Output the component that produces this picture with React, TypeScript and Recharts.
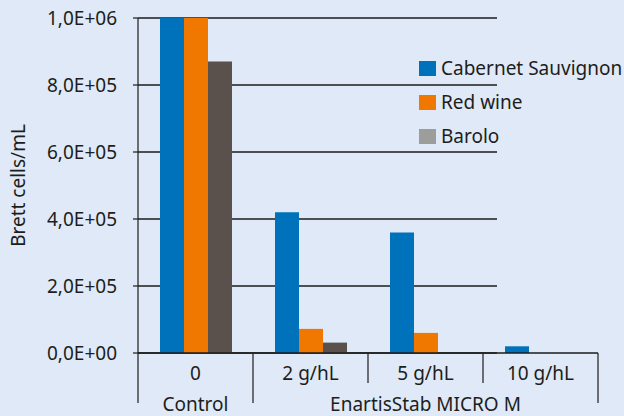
import { Bar, BarChart, CartesianGrid, Legend, XAxis, YAxis } from 'recharts';

const categories = ['0', '2 g/hL', '5 g/hL', '10 g/hL'];
// which group each category sits under on the second axis row
const categoryGroup = [0, 1, 1, 1];
const groupNames = ['Control', 'EnartisStab MICRO M'];

const seriesNames = ['Cabernet Sauvignon', 'Red wine', 'Barolo'];
const cabernet = [1.0e6, 4.2e5, 3.6e5, 2.0e4];
const redWine = [1.0e6, 7.2e4, 6.0e4, 0];
const barolo = [8.7e5, 3.1e4, 0, 0];

const yTicks = [0, 2e5, 4e5, 6e5, 8e5, 1e6];

const BG = '#dfe9f7';
const INK = '#1d1d1b';
const barColors = ['#0072bc', '#f07800', '#5b514c'];
const legendColors = ['#0072bc', '#f07800', '#9d9d9c'];
const FONT = 19;

const data = categories.map((name, i) => ({
  name,
  cabernet: cabernet[i],
  redWine: redWine[i],
  barolo: barolo[i],
}));
const keys = ['cabernet', 'redWine', 'barolo'];

// 1,0E+06 style
function sciLabel(v: number) {
  const [m, e] = v.toExponential(1).split('e');
  return `${m.replace('.', ',')}E${e[0]}${e.slice(1).padStart(2, '0')}`;
}

function CategoryTick(props: any) {
  const { x, y, payload } = props;
  const i = payload.index;
  const half = payload.offset;
  const left = x - half;
  const right = x + half;
  const g = categoryGroup[i];
  const startsGroup = i === 0 || categoryGroup[i - 1] !== g;
  const isLast = i === categories.length - 1;
  const count = categoryGroup.filter((c) => c === g).length;
  return (
    <g>
      <text x={x} y={y + 20} dy="0.35em" textAnchor="middle" fill={INK} fontSize={FONT}>
        {payload.value}
      </text>
      <line x1={left} x2={left} y1={y} y2={y + (startsGroup ? 50 : 30)} stroke={INK} strokeWidth={1.2} />
      {isLast && <line x1={right} x2={right} y1={y} y2={y + 50} stroke={INK} strokeWidth={1.2} />}
      {startsGroup && (
        <text
          x={left + count * half}
          y={y + 51}
          dy="0.35em"
          textAnchor="middle"
          fill={INK}
          fontSize={FONT}
        >
          {groupNames[g]}
        </text>
      )}
    </g>
  );
}

function LegendBox() {
  return (
    <div>
      {seriesNames.map((name, i) => (
        <div key={name} style={{ display: 'flex', alignItems: 'center', height: 34 }}>
          <span
            style={{
              display: 'inline-block',
              width: 17,
              height: 15,
              background: legendColors[i],
              marginRight: 5,
            }}
          />
          <span style={{ fontSize: FONT, color: INK, whiteSpace: 'nowrap' }}>{name}</span>
        </div>
      ))}
    </div>
  );
}

export default function App() {
  return (
    <div
      style={{
        position: 'absolute',
        left: 0,
        top: 0,
        width: 624,
        height: 416,
        background: BG,
        fontFamily: '"Noto Sans", "Open Sans", sans-serif',
      }}
    >
      <BarChart
        width={624}
        height={416}
        data={data}
        margin={{ top: 18, right: 26, bottom: 0, left: 0 }}
        barGap={0}
      >
        <CartesianGrid
          vertical={false}
          horizontal={(p: any) => (
            <line
              key={p.key ?? `h-${p.index}`}
              x1={p.x1}
              x2={p.x1 + 359}
              y1={p.y1}
              y2={p.y2}
              stroke={INK}
              strokeWidth={1.4}
            />
          )}
        />
        <XAxis
          dataKey="name"
          height={63}
          interval={0}
          tickLine={false}
          tickSize={0}
          tickMargin={0}
          axisLine={{ stroke: INK, strokeWidth: 1.4 }}
          tick={<CategoryTick />}
        />
        <YAxis
          width={138}
          domain={[0, 1e6]}
          ticks={yTicks}
          tickFormatter={sciLabel}
          tickSize={5}
          tickMargin={16}
          axisLine={{ stroke: INK, strokeWidth: 1.2 }}
          tickLine={{ stroke: INK, strokeWidth: 1.2 }}
          tick={{ fill: INK, fontSize: FONT }}
          label={{
            value: 'Brett cells/mL',
            angle: -90,
            position: 'insideLeft',
            offset: 18,
            fill: INK,
            fontSize: FONT,
            style: { textAnchor: 'middle' },
          }}
        />
        <Legend
          layout="horizontal"
          verticalAlign="middle"
          align="center"
          content={<LegendBox />}
          wrapperStyle={{ top: 51, left: 419, width: 205, height: 102 }}
        />
        {keys.map((k, i) => (
          <Bar
            key={k}
            dataKey={k}
            name={seriesNames[i]}
            fill={barColors[i]}
            barSize={24}
            isAnimationActive={false}
          />
        ))}
      </BarChart>
    </div>
  );
}
